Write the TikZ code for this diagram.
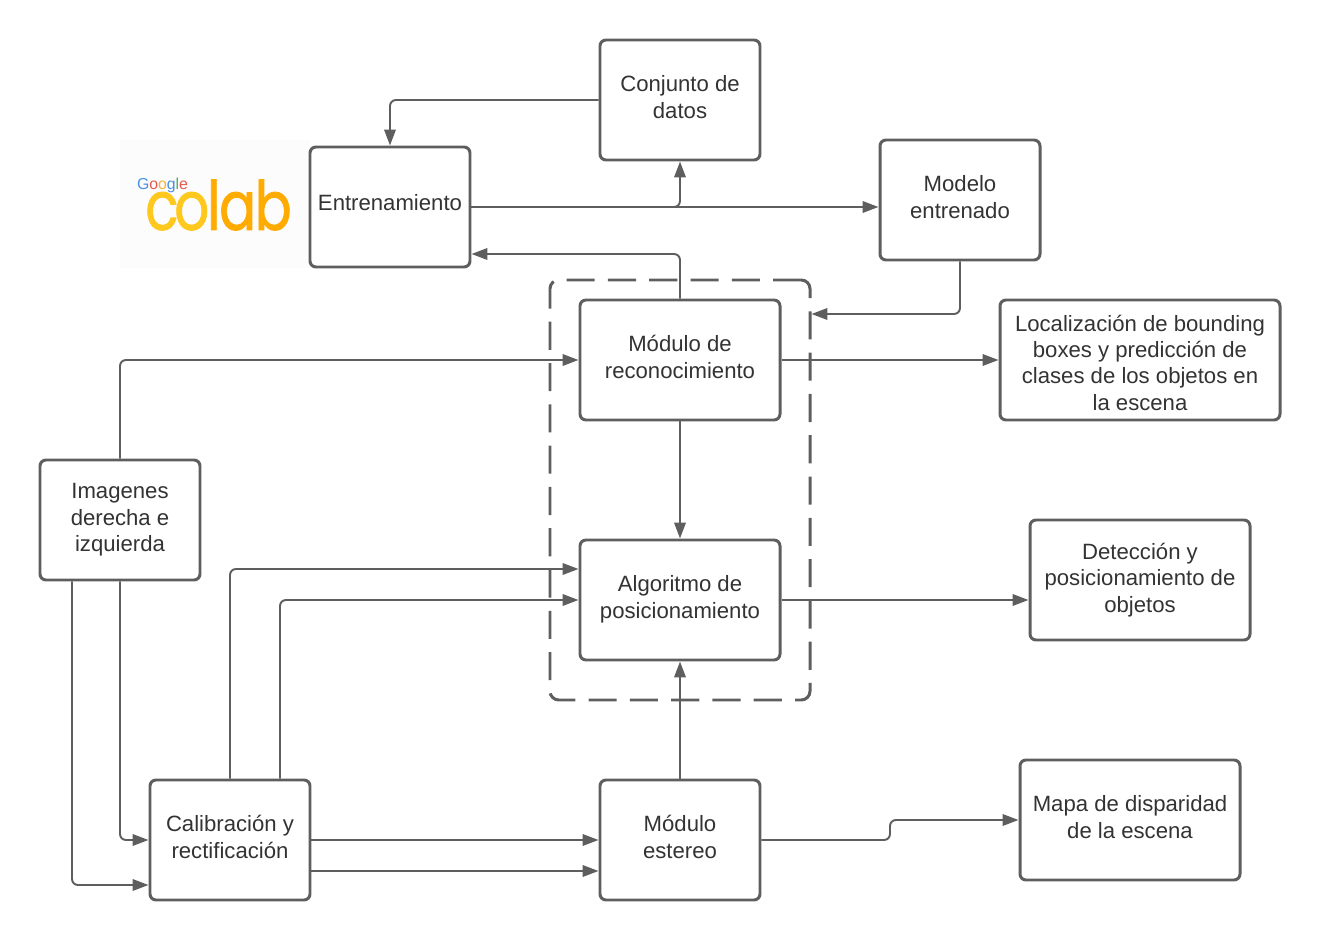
\documentclass[tikz,border=0pt]{standalone}
\usepackage{fontspec}
\setmainfont{Liberation Sans}
\newfontfamily\colabfont[FakeBold=1.2]{Poppins}
\usepackage{xcolor}
\usetikzlibrary{arrows.meta, positioning, calc}
\definecolor{linegray}{HTML}{5E5E5E}
\definecolor{textgray}{HTML}{333333}
\definecolor{colabyellow}{HTML}{FFC81E}
\definecolor{colaborange}{HTML}{FFAB00}
\definecolor{logoback}{HTML}{FCFCFC}
\definecolor{gblue}{HTML}{4A90E2}
\definecolor{gred}{HTML}{E8584E}
\definecolor{gyellow}{HTML}{F3B63C}
\definecolor{ggreen}{HTML}{4CAF64}

\begin{document}
\begin{tikzpicture}[
  every node/.style={font=\fontsize{12.6pt}{15pt}\selectfont, text=textgray},
  box/.style={draw=linegray, line width=1.7pt, rounded corners=3.4pt, fill=white,
              minimum width=3.2cm, minimum height=2.4cm, align=center, text depth=3.4pt},
  wide/.style={box, minimum width=4cm},
  output/.style={box, minimum width=4.4cm},
  region/.style={draw=linegray, line width=1.7pt, rounded corners=5pt,
                 dash pattern=on 16pt off 7.5pt,
                 minimum width=5.2cm, minimum height=8.4cm},
  arr/.style={-{Triangle[length=9pt,width=6.5pt]}, draw=linegray, line width=1.1pt, rounded corners=3.4pt},
]
\useasboundingbox (0,0) rectangle (26.4,-18.8);

% --- logo
\node[fill=logoback, minimum width=3.8cm, minimum height=2.56cm, inner sep=0pt] (logo) at (4.3,-4.08) {};
\node[inner sep=0pt, font=\colabfont\fontsize{38pt}{38pt}\selectfont, text=colaborange,
      xscale=.82, yscale=1.02, transform shape] (colab) at (4.37,-4.1)
  {\textcolor{colabyellow}{c\kern-3pt o}\kern-1.5pt l\kern-1pt a\kern-1pt b};
\node[inner sep=0pt, font=\fontsize{9pt}{9pt}\selectfont] (google) at (3.25,-3.7)
  {\textcolor{gblue}{G}\textcolor{gred}{o}\textcolor{gyellow}{o}\textcolor{gblue}{g}\textcolor{ggreen}{l}\textcolor{gred}{e}};

% --- dashed region
\node[region] (recinto) at (13.6,-9.8) {};

% --- top row
\node[box] (conj) at (13.6,-2.0) {Conjunto de\\datos};
\node[box, text depth=5pt] (entr) at (7.8,-4.14) {Entrenamiento};
\node[box] (modelo) at (19.2,-4.0) {Modelo\\entrenado};

% --- centre column
\node[wide] (rec) at (13.6,-7.2) {Módulo de\\reconocimiento};
\node[wide] (alg) at (13.6,-12.0) {Algoritmo de\\posicionamiento};
\node[box] (est) at (13.6,-16.8) {Módulo\\estereo};

% --- left column
\node[box, text depth=2.8pt] (img) at (2.4,-10.4) {Imagenes\\derecha e\\izquierda};
\node[box] (cal) at (4.6,-16.8) {Calibración y\\rectificación};

% --- outputs
\node[box, minimum width=5.6cm, text depth=0pt] (loc) at (22.8,-7.2) {\rule{0pt}{12pt}Localización de bounding\\boxes y predicción de\\clases de los objetos en\\la escena};
\node[output, text depth=2.8pt] (det) at (22.8,-11.6) {Detección y\\posicionamiento de\\objetos};
\node[output] (mapa) at (22.6,-16.4) {Mapa de disparidad\\de la escena};

% --- training loop
\draw[arr] (conj.west) -| (entr.north);
\draw[arr] (entr.east) -| (conj.south);
\draw[arr] (entr.east) -- (entr.east -| modelo.west);
\coordinate (entr in) at ($(entr.east)+(0,-0.94)$);
\draw[arr] (rec.north) |- (entr in);
\coordinate (recinto in) at ($(recinto.east)+(0,3.52)$);
\draw[arr] (modelo.south) |- (recinto in);

% --- recognition
\draw[arr] (img.north) |- (rec.west);
\draw[arr] (rec.east) -- (loc.west);
\draw[arr] (rec.south) -- (alg.north);
\draw[arr] (alg.east) -- (alg.east -| det.west);

% --- rectified images
\coordinate (img a) at ($(img.south)+(-0.96,0)$);
\coordinate (cal a) at ($(cal.west)+(0,-0.9)$);
\draw[arr] (img a) |- (cal a);
\draw[arr] (img.south) |- (cal.west);
\coordinate (cal b) at ($(cal.north)+(1,0)$);
\coordinate (alg b) at ($(alg.west)+(0,0.62)$);
\draw[arr] (cal.north) |- (alg b);
\draw[arr] (cal b) |- (alg.west);

% --- stereo
\coordinate (cal c) at ($(cal.east)+(0,-0.62)$);
\draw[arr] (cal.east) -- (est.west);
\draw[arr] (cal c) -- (cal c -| est.west);
\draw[arr] (est.north) -- (alg.south);
\coordinate (codo) at (17.8,-16.8);
\draw[arr] (est.east) -- (codo) |- (mapa.west);
\end{tikzpicture}
\end{document}
